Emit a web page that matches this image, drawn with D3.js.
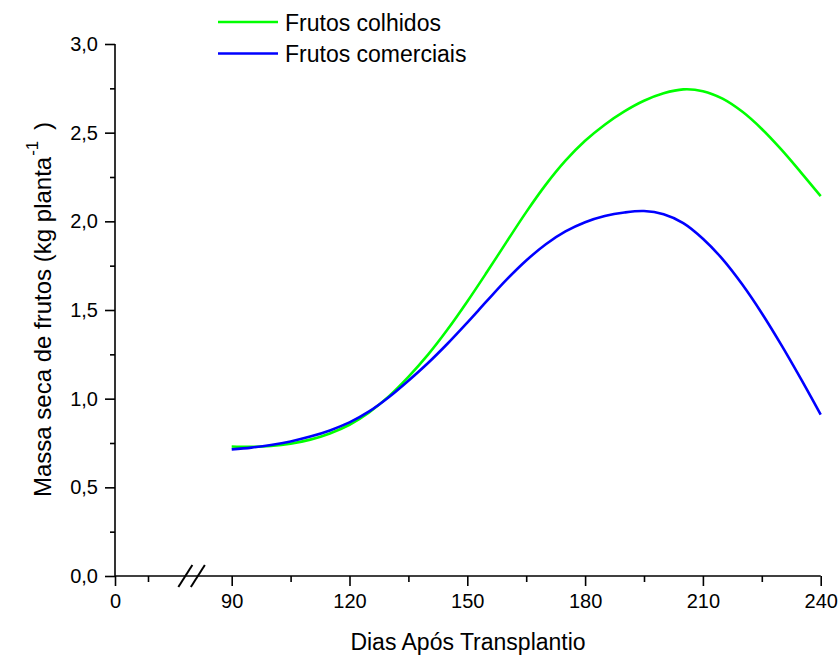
<!DOCTYPE html>
<html>
<head>
<meta charset="utf-8">
<script src="https://cdn.jsdelivr.net/npm/d3@7/dist/d3.min.js"></script>
<style>
  html, body { margin: 0; padding: 0; background: #fff; }
  svg { display: block; font-family: "Liberation Sans", Arial, sans-serif; }
</style>
</head>
<body>
<svg id="chart" width="839" height="656"></svg>
<script>
// Days after transplanting (sampled along the fitted curves)
const days = [90, 95, 100, 105, 110, 115, 120, 125, 130, 135, 140, 145, 150, 155, 160, 165,
              170, 175, 180, 185, 190, 195, 200, 205, 210, 215, 220, 225, 230, 235, 240];
// Dry fruit mass (kg per plant)
const colhidos = [0.730, 0.728, 0.733, 0.746, 0.769, 0.804, 0.853, 0.923, 1.013, 1.123, 1.248,
                  1.391, 1.548, 1.714, 1.884, 2.052, 2.207, 2.342, 2.454, 2.545, 2.620, 2.680,
                  2.722, 2.744, 2.734, 2.692, 2.619, 2.521, 2.404, 2.275, 2.142];
const comerciais = [0.714, 0.724, 0.739, 0.759, 0.786, 0.821, 0.866, 0.928, 1.008, 1.101, 1.201,
                    1.311, 1.429, 1.551, 1.671, 1.779, 1.871, 1.943, 1.995, 2.030, 2.050, 2.058,
                    2.040, 1.990, 1.902, 1.787, 1.645, 1.482, 1.302, 1.110, 0.910];
const seriesNames = ["Frutos colhidos", "Frutos comerciais"];
const seriesColors = ["#00ff00", "#0000ff"];
const yMajor = [0, 0.5, 1.0, 1.5, 2.0, 2.5, 3.0];
const yMinor = [0.25, 0.75, 1.25, 1.75, 2.25, 2.75];
const xMajor = [90, 120, 150, 180, 210, 240];
const xMinor = [105, 135, 165, 195, 225];
const xLeftMajor = [0];
const xLeftMinor = [15];

const svg = d3.select("#chart");
const fmt = d3.formatLocale({decimal: ",", thousands: ".", grouping: [3], currency: ["", ""]}).format(".1f");

const y = d3.scaleLinear().domain([0, 3]).range([576, 44]);
const x = d3.scaleLinear().domain([90, 240]).range([231.7, 820.7]);
// short segment before the axis break
const xLeft = d3.scaleLinear().domain([0, 30]).range([115, 181]);

const tickFont = "20px";
const axisColor = "#000";

function styleAxis(g) {
  g.select(".domain").remove();
  g.selectAll(".tick line").attr("stroke", axisColor).attr("stroke-width", 1.6);
  g.selectAll(".tick text").attr("fill", "#000").style("font-size", tickFont)
    .style("font-family", "'Liberation Sans', Arial, sans-serif");
}

// Y axis
svg.append("g").attr("transform", "translate(115,0)")
  .call(d3.axisLeft(y).tickValues(yMajor).tickSize(10).tickPadding(7).tickFormat(fmt))
  .call(styleAxis);
svg.append("g").attr("transform", "translate(115,0)")
  .call(d3.axisLeft(y).tickValues(yMinor).tickSize(5).tickFormat(""))
  .call(styleAxis);
svg.append("line").attr("x1", 115).attr("x2", 115).attr("y1", y(3)).attr("y2", y(0))
  .attr("stroke", axisColor).attr("stroke-width", 1.6);

// X axis (two segments with a break)
svg.append("g").attr("transform", `translate(0,${y(0)})`)
  .call(d3.axisBottom(x).tickValues(xMajor).tickSize(10).tickPadding(8).tickFormat(d3.format("d")))
  .call(styleAxis);
svg.append("g").attr("transform", `translate(0,${y(0)})`)
  .call(d3.axisBottom(x).tickValues(xMinor).tickSize(6).tickFormat(""))
  .call(styleAxis);
svg.append("g").attr("transform", `translate(0,${y(0)})`)
  .call(d3.axisBottom(xLeft).tickValues(xLeftMajor).tickSize(10).tickPadding(8).tickFormat(d3.format("d")))
  .call(styleAxis);
svg.append("g").attr("transform", `translate(0,${y(0)})`)
  .call(d3.axisBottom(xLeft).tickValues(xLeftMinor).tickSize(6).tickFormat(""))
  .call(styleAxis);
svg.append("line").attr("x1", xLeft(0)).attr("x2", x(240)).attr("y1", y(0)).attr("y2", y(0))
  .attr("stroke", axisColor).attr("stroke-width", 1.6);

// break marks
const bx = (xLeft(30) + x(90)) / 2 - 21;
[0, 12.5].forEach(off => {
  svg.append("line")
    .attr("x1", bx + off - 7).attr("y1", y(0) + 11)
    .attr("x2", bx + off + 7).attr("y2", y(0) - 11)
    .attr("stroke", axisColor).attr("stroke-width", 2);
});

// curves
const line = d3.line()
  .x((d, i) => x(days[i]))
  .y(d => y(d))
  .curve(d3.curveCatmullRom.alpha(0.5));

[colhidos, comerciais].forEach((vals, k) => {
  svg.append("path").datum(vals)
    .attr("d", line)
    .attr("fill", "none")
    .attr("stroke", seriesColors[k])
    .attr("stroke-width", 2.6)
    .attr("stroke-linejoin", "round");
});

// legend
seriesNames.forEach((name, k) => {
  const ly = 22 + k * 31.5;
  svg.append("line").attr("x1", 218).attr("x2", 278).attr("y1", ly).attr("y2", ly)
    .attr("stroke", seriesColors[k]).attr("stroke-width", 2.6);
  svg.append("text").attr("x", 285).attr("y", ly + 8.5)
    .style("font-size", "23px").attr("fill", "#000").text(name);
});

// axis titles
svg.append("text").attr("x", 468).attr("y", 650).attr("text-anchor", "middle")
  .style("font-size", "23px").attr("fill", "#000").text("Dias Após Transplantio");

const yt = svg.append("text").attr("transform", "rotate(-90)")
  .attr("x", -497).attr("y", 51)
  .style("font-size", "24px").attr("fill", "#000");
yt.append("tspan").text("Massa seca de frutos (kg planta");
yt.append("tspan").attr("dx", 1).attr("dy", -13).style("font-size", "17px").text("-1");
yt.append("tspan").attr("dx", 4).attr("dy", 13).text(" )");
</script>
</body>
</html>
